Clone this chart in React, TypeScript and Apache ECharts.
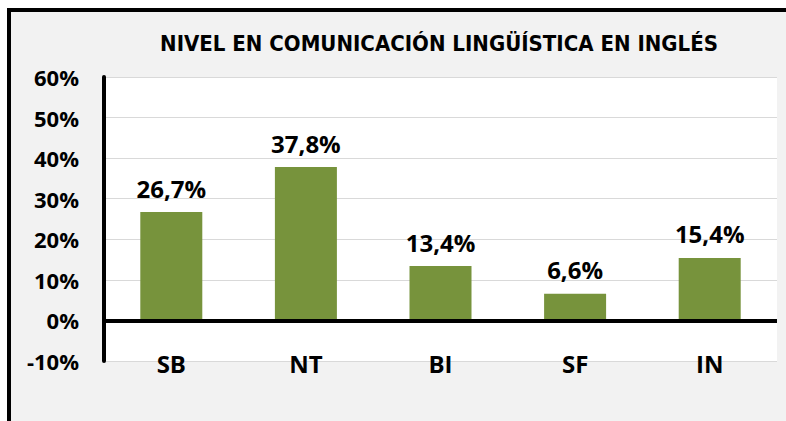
import React, { useEffect, useRef } from "react";
import * as echarts from "echarts";

const titleText = "NIVEL EN COMUNICACIÓN LINGÜÍSTICA EN INGLÉS";
const categories = ["SB", "NT", "BI", "SF", "IN"];
const values = [26.7, 37.8, 13.4, 6.6, 15.4];
const yMin = -10;
const yMax = 60;
const yInterval = 10;

const numFont = "'Open Sans', 'Noto Sans', sans-serif";
const titleFont = "'Liberation Sans Narrow', 'DejaVu Sans Condensed', 'Open Sans', sans-serif";

export default function App() {
  const ref = useRef<HTMLDivElement>(null);
  useEffect(() => {
    if (!ref.current) return;
    const chart = echarts.init(ref.current, null, { renderer: "svg" });
    chart.setOption({
      animation: false,
      backgroundColor: "transparent",
      graphic: [
        {
          type: "text",
          x: 439,
          y: 32,
          style: {
            text: titleText,
            fontFamily: titleFont,
            fontWeight: "bold",
            fontSize: 22,
            fill: "#000",
            align: "center",
            verticalAlign: "top",
            textAlign: "center",
            textVerticalAlign: "top",
          },
        },
      ],
      grid: {
        left: 104,
        right: 9,
        top: 77,
        bottom: 60,
        show: true,
        backgroundColor: "#ffffff",
        borderWidth: 0,
        containLabel: false,
      },
      xAxis: {
        type: "category",
        data: categories,
        axisLine: { show: false, onZero: false },
        axisTick: { show: false },
        splitLine: { show: false },
        axisLabel: {
          margin: -10,
          color: "#000",
          fontFamily: numFont,
          fontWeight: "bold",
          fontSize: 24,
        },
      },
      yAxis: {
        type: "value",
        min: yMin,
        max: yMax,
        interval: yInterval,
        axisLine: { show: true, lineStyle: { color: "#000", width: 4 } },
        axisTick: { show: false },
        splitLine: { show: true, lineStyle: { color: "#d9d9d9", width: 1 } },
        axisLabel: {
          margin: 25,
          color: "#000",
          fontFamily: numFont,
          fontWeight: "bold",
          fontSize: 22,
          formatter: "{value}%",
        },
      },
      series: [
        {
          type: "bar",
          data: values,
          barWidth: 62,
          itemStyle: { color: "#77933c" },
          label: {
            show: true,
            position: "top",
            distance: 12,
            color: "#000",
            fontFamily: numFont,
            fontWeight: "bold",
            fontSize: 24,
            formatter: (p: any) => String(p.value.toFixed(1)).replace(".", ",") + "%",
          },
          markLine: {
            silent: true,
            symbol: ["none", "none"],
            label: { show: false },
            lineStyle: { color: "#000", width: 4, type: "solid" },
            data: [{ yAxis: 0 }],
          },
        },
      ],
    });
    return () => chart.dispose();
  }, []);

  return (
    <div style={{ position: "fixed", left: 0, top: 0, width: 786, height: 421, background: "#ffffff", overflow: "hidden" }}>
      <div
        style={{
          position: "absolute",
          left: 7,
          top: 8,
          width: 800,
          height: 430,
          background: "#f2f2f2",
          borderLeft: "4px solid #000",
          borderTop: "4px solid #000",
        }}
      />
      <div ref={ref} style={{ position: "absolute", left: 0, top: 0, width: 786, height: 421 }} />
    </div>
  );
}
